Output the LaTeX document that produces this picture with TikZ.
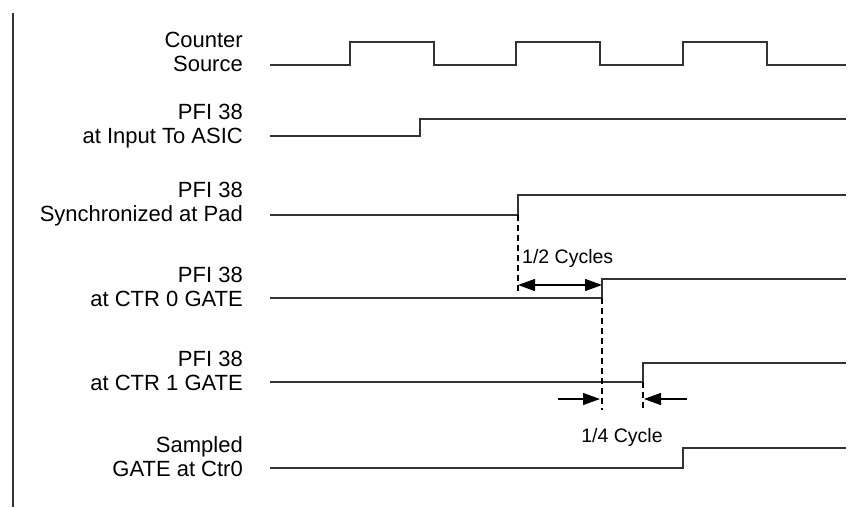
\documentclass[tikz,border=0pt]{standalone}
\usepackage{fontspec}
\setmainfont{Liberation Sans}
\usetikzlibrary{arrows.meta, positioning}

\begin{document}
\begin{tikzpicture}[
    x=1pt, y=-1pt,
    sig label/.style={anchor=east, align=right, inner sep=0pt, font=\fontsize{22}{24}\selectfont},
    note/.style={inner sep=0pt, font=\fontsize{19.5}{22}\selectfont},
    signal/.style={line width=1.6pt, draw=black!80},
    guide/.style={line width=1.1pt, dash pattern=on 6pt off 4pt},
    dim/.style={line width=1.2pt, -{Triangle[length=17pt,width=12pt]}}
]
\useasboundingbox (0,0) rectangle (858,507);

% Frame line
\draw[line width=1.6pt, draw=black!80] (13,13) -- (13,507);

% Labels
\node[sig label] (src)  at (243,52)  {Counter\\Source};
\node[sig label] (asic) at (243,126) {PFI 38\\at Input To ASIC};
\node[sig label] (pad)  at (243,204) {PFI 38\\Synchronized at Pad};
\node[sig label] (ctr0) at (243,287) {PFI 38\\at CTR 0 GATE};
\node[sig label] (ctr1) at (243,371) {PFI 38\\at CTR 1 GATE};
\node[sig label] (smp)  at (243,457) {Sampled\\GATE at Ctr0};

% Waveforms
\draw[signal] (270,65) -- (350,65) -- (350,42) -- (434,42) -- (434,65) -- (516,65) -- (516,42)
    -- (600,42) -- (600,65) -- (683,65) -- (683,42) -- (767,42) -- (767,65) -- (846,65);
\draw[signal] (270,136) -- (420,136) -- (420,119) -- (846,119);
\draw[signal] (270,215) -- (518,215) coordinate (padrise) -- (518,195) -- (846,195);
\draw[signal] (270,298) -- (602,298) coordinate (ctr0rise) -- (602,279) -- (846,279);
\draw[signal] (270,382) -- (643,382) coordinate (ctr1rise) -- (643,363) -- (846,363);
\draw[signal] (270,468) -- (683,468) -- (683,448) -- (846,448);

% Timing marks
\coordinate (padlow)  at (518,293);
\coordinate (ctr0low) at (602,410);
\coordinate (ctr1low) at (643,410);
\draw[guide] (padrise) -- (padlow);
\draw[guide] (ctr0rise) -- (ctr0low);
\draw[guide] (ctr1rise) -- (ctr1low);

\coordinate (halfA) at (518,285);
\coordinate (halfB) at (602,285);
\draw[dim, {Triangle[length=17pt,width=12pt]}-{Triangle[length=17pt,width=12pt]}] (halfA) -- (halfB);
\node[note, anchor=south west] (half) at (522,268) {1/2 Cycles};

\coordinate (qtrA) at (558,399);
\coordinate (qtrB) at (600,399);
\coordinate (qtrC) at (687,399);
\coordinate (qtrD) at (644,399);
\draw[dim] (qtrA) -- (qtrB);
\draw[dim] (qtrC) -- (qtrD);
\node[note] (qtr) at (622,437) {1/4 Cycle};

\end{tikzpicture}
\end{document}
